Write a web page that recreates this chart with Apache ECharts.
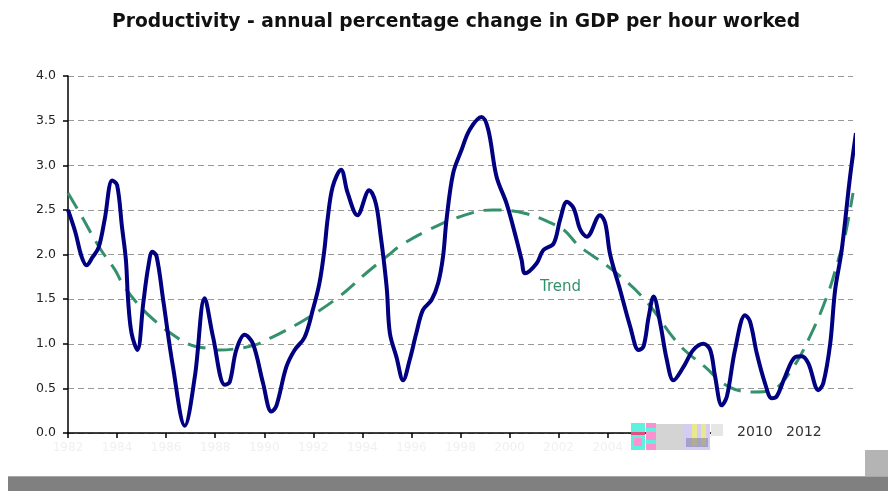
<!DOCTYPE html>
<html><head><meta charset="utf-8">
<script src="https://cdn.jsdelivr.net/npm/echarts@6/dist/echarts.min.js"></script>
<style>html,body{margin:0;padding:0;background:#fff}#c{width:888px;height:491px}</style>
</head><body><div id="c"></div>
<script>
// Productivity (annual % change in GDP per hour worked)
const years = [1982.00,1982.30,1982.55,1982.76,1983.00,1983.25,1983.50,1983.80,1984.00,1984.20,1984.36,1984.45,1984.59,1984.83,
  1985.07,1985.27,1985.44,1985.61,1985.88,1986.28,1986.76,1987.17,1987.57,1987.91,1988.39,1988.59,1988.86,1989.20,1989.54,1989.95,
  1990.29,1990.49,1990.90,1991.24,1991.64,1991.98,1992.25,1992.45,1992.58,1992.79,1993.13,1993.40,1993.80,1994.28,1994.55,1994.75,
  1994.87,1995.00,1995.12,1995.39,1995.66,1995.93,1996.20,1996.47,1996.82,1997.09,1997.29,1997.43,1997.70,1998.04,1998.38,1998.86,
  1999.13,1999.47,1999.88,2000.29,2000.49,2000.63,2001.10,2001.38,2001.79,2002.06,2002.34,2002.61,2002.88,2003.15,2003.69,2003.90,
  2004.10,2004.51,2004.92,2005.26,2005.46,2005.67,2005.87,2006.14,2006.41,2006.68,2007.09,2007.49,2007.90,2008.18,2008.38,2008.65,
  2008.86,2009.19,2009.60,2009.80,2010.08,2010.41,2010.69,2010.89,2011.23,2011.64,2011.91,2012.18,2012.59,2012.79,2013.07,2013.27,
  2013.54,2013.88,2014.12];
const productivity = [2.50,2.25,1.98,1.88,1.97,2.08,2.40,2.83,2.78,2.31,1.94,1.49,1.12,0.93,
  1.46,1.86,2.03,1.98,1.49,0.74,0.08,0.63,1.51,1.08,0.54,0.57,0.93,1.10,1.00,0.56,
  0.24,0.30,0.74,0.93,1.07,1.38,1.68,2.05,2.39,2.76,2.95,2.69,2.44,2.72,2.57,2.20,
  1.94,1.60,1.12,0.85,0.59,0.82,1.12,1.38,1.49,1.68,1.98,2.39,2.91,3.17,3.40,3.54,
  3.40,2.87,2.57,2.16,1.94,1.79,1.90,2.05,2.12,2.39,2.59,2.52,2.28,2.20,2.44,2.35,
  2.00,1.60,1.19,0.93,0.97,1.30,1.53,1.23,0.82,0.59,0.74,0.93,1.00,0.93,0.63,0.31,
  0.41,0.93,1.32,1.25,0.89,0.56,0.39,0.41,0.63,0.85,0.86,0.78,0.48,0.56,1.00,1.60,
  2.05,2.87,3.36];
// Trend
const trendYears = [1982.0,1982.49,1983.30,1983.91,1984.25,1984.93,1985.74,1986.28,1986.96,1987.64,1988.18,1989.00,1989.67,
  1990.21,1990.74,1991.84,1993.06,1994.15,1995.09,1995.50,1996.59,1997.94,1999.30,2000.65,2001.87,2002.28,2002.82,2004.18,
  2005.53,2006.88,2007.97,2008.92,2010.01,2010.68,2011.50,2012.31,2012.99,2013.40,2013.67,2014.00];
const trend = [2.69,2.46,2.07,1.83,1.66,1.42,1.21,1.10,0.99,0.95,0.93,0.95,0.99,
  1.06,1.13,1.30,1.53,1.79,2.00,2.09,2.26,2.42,2.50,2.46,2.33,2.26,2.10,1.83,
  1.49,1.00,0.74,0.52,0.46,0.48,0.71,1.12,1.57,1.94,2.20,2.69];
// Tick labels
const faintTickLabels = ['1982','1984','1986','1988','1990','1992','1994','1996','1998','2000','2002','2004'];
const shownTickLabels = ['2010','2012'];
const titleText = 'Productivity - annual percentage change in GDP per hour worked';
const trendLabel = 'Trend';

const chart = echarts.init(document.getElementById('c'));
const xBase = {type:'value', min:1982, max:2014, interval:2, gridIndex:0, splitLine:{show:false}};
chart.setOption({
  animation:false,
  backgroundColor:'#ffffff',
  title:{text:titleText, left:107, top:8,
    textStyle:{fontFamily:'DejaVu Sans', fontWeight:'bold', fontSize:18.7, color:'#111'}},
  grid:{left:68, top:76, right:35, bottom:58},
  xAxis:[
    Object.assign({}, xBase, {z:0,
      axisLine:{show:true, lineStyle:{color:'#000', width:1.5}},
      axisTick:{show:true, length:5, lineStyle:{color:'#000', width:1.5}},
      axisLabel:{margin:9, color:'#f0f0f0', fontFamily:'DejaVu Sans', fontSize:12,
        formatter:v => faintTickLabels.includes(String(v)) ? String(v) : ''}}),
    Object.assign({}, xBase, {z:60, position:'bottom',
      axisLine:{show:false}, axisTick:{show:false},
      axisLabel:{margin:-8, color:'#333', fontFamily:'DejaVu Sans', fontSize:14,
        showMaxLabel:false,
        formatter:v => shownTickLabels.includes(String(v)) ? String(v) : ''}})
  ],
  yAxis:{type:'value', min:0, max:4, interval:0.5,
    axisLine:{show:true, lineStyle:{color:'#000', width:1.5}},
    axisTick:{show:true, length:5, lineStyle:{color:'#000', width:1.5}},
    axisLabel:{margin:12, color:'#222', fontFamily:'DejaVu Sans', fontSize:12.5,
      formatter:v => v.toFixed(1)},
    splitLine:{show:true, lineStyle:{color:'#999', width:1, type:[6,4]}}},
  series:[
    {type:'line', name:'Trend', data:trendYears.map((y,i)=>[y,trend[i]]), smooth:0.4,
      symbol:'none', clip:false, z:3,
      lineStyle:{color:'#34916c', width:3, type:[18,10]}},
    {type:'line', name:'Productivity', data:years.map((y,i)=>[y,productivity[i]]), smooth:0.35,
      symbol:'none', clip:false, z:4,
      lineStyle:{color:'#000080', width:4}}
  ],
  graphic:[
    {type:'text', left:540, top:280, z:10, style:{text:trendLabel, fill:'#34916c', font:'15px DejaVu Sans'}},
    {type:'rect', z:50, shape:{x:716, y:429, width:150, height:13}, style:{fill:'#ffffff'}},
    {type:'rect', z:55, shape:{x:631, y:423, width:14, height:27}, style:{fill:'#5ff0e0'}},
    {type:'rect', z:56, shape:{x:631, y:432, width:14, height:3}, style:{fill:'#e05080'}},
    {type:'rect', z:56, shape:{x:634, y:438, width:8, height:8}, style:{fill:'#ff90d0'}},
    {type:'rect', z:55, shape:{x:646, y:423, width:10, height:27}, style:{fill:'#ff90d0'}},
    {type:'rect', z:56, shape:{x:646, y:428, width:10, height:4}, style:{fill:'#5ff0e0'}},
    {type:'rect', z:56, shape:{x:646, y:440, width:10, height:4}, style:{fill:'#5ff0e0'}},
    {type:'rect', z:55, shape:{x:656, y:424, width:27, height:26}, style:{fill:'#d4d4d4'}},
    {type:'rect', z:55, shape:{x:683, y:424, width:27, height:26}, style:{fill:'#d4ccf2'}},
    {type:'rect', z:56, shape:{x:692, y:424, width:5, height:22}, style:{fill:'#e8e890'}},
    {type:'rect', z:56, shape:{x:701, y:424, width:5, height:22}, style:{fill:'#e8e890'}},
    {type:'rect', z:57, shape:{x:686, y:438, width:22, height:9}, style:{fill:'#6a6a90', opacity:0.45}},
    {type:'rect', z:55, shape:{x:711, y:424, width:12, height:12}, style:{fill:'#e6e6e6'}},
    {type:'rect', z:55, shape:{x:865, y:450, width:23, height:27}, style:{fill:'#b4b4b4'}},
    {type:'rect', z:55, shape:{x:8, y:477, width:880, height:14}, style:{fill:'#808080'}},
    {type:'rect', z:56, shape:{x:8, y:476, width:880, height:1}, style:{fill:'#a8a8a8'}}
  ]
});
</script></body></html>
